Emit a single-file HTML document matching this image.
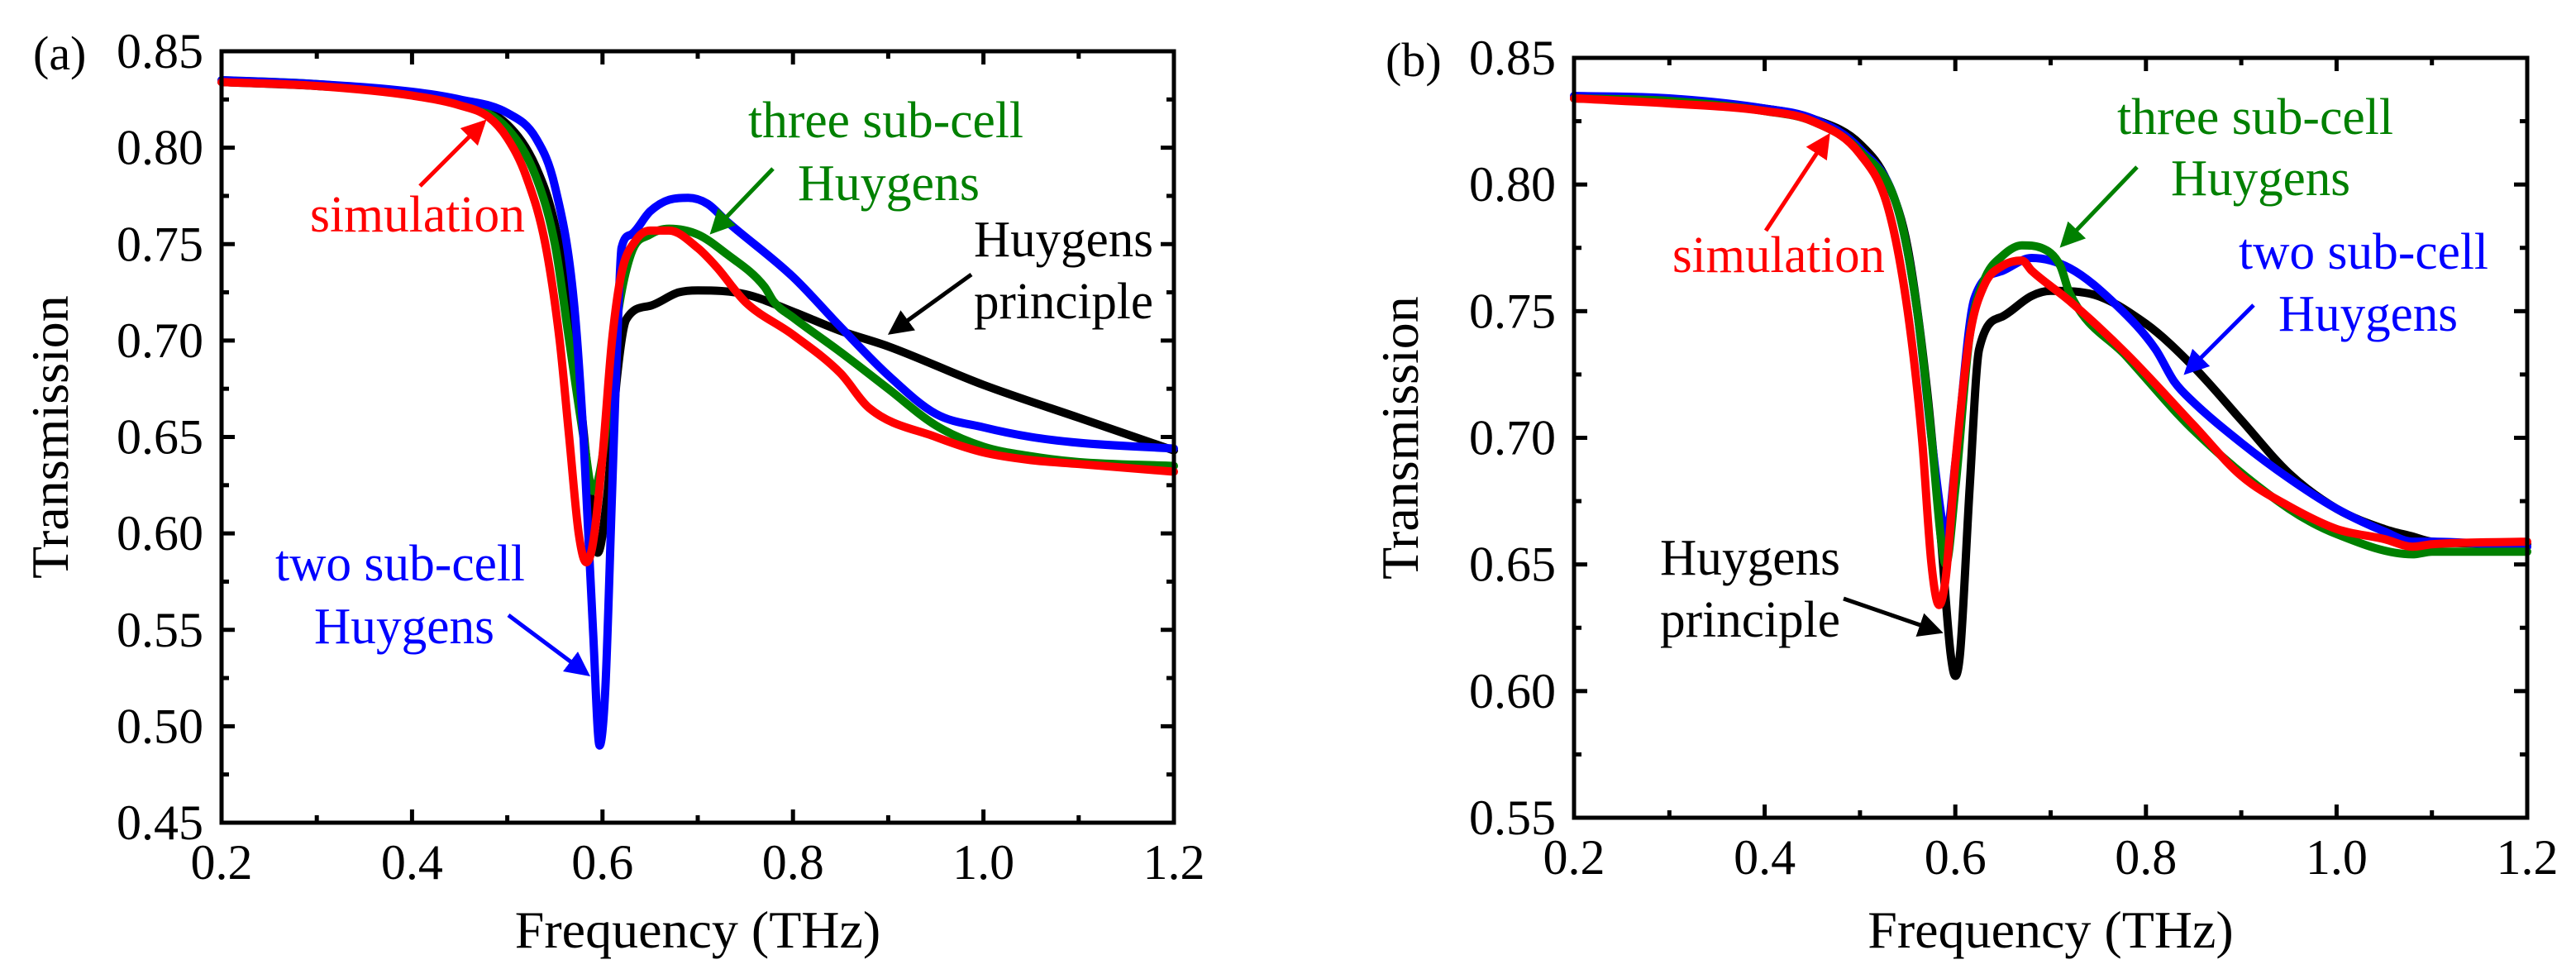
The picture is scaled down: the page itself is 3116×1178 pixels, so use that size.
<!DOCTYPE html>
<html><head><meta charset="utf-8"><style>
html,body{margin:0;padding:0;background:#fff;}
svg{display:block;font-family:"Liberation Serif",serif;}
</style></head><body>
<svg id="chart" width="3116" height="1178" viewBox="0 0 3116 1178" xmlns="http://www.w3.org/2000/svg">
<defs>
<marker id="ah-red" markerWidth="6" markerHeight="6" refX="5" refY="3" orient="auto" markerUnits="strokeWidth"><path d="M0,0 L6,3 L0,6 Z" fill="#f00"/></marker>
<marker id="ah-green" markerWidth="6" markerHeight="6" refX="5" refY="3" orient="auto" markerUnits="strokeWidth"><path d="M0,0 L6,3 L0,6 Z" fill="#008000"/></marker>
<marker id="ah-blue" markerWidth="6" markerHeight="6" refX="5" refY="3" orient="auto" markerUnits="strokeWidth"><path d="M0,0 L6,3 L0,6 Z" fill="#00f"/></marker>
<marker id="ah-black" markerWidth="6" markerHeight="6" refX="5" refY="3" orient="auto" markerUnits="strokeWidth"><path d="M0,0 L6,3 L0,6 Z" fill="#000"/></marker>
</defs>
</svg>
<script>
// Panel (a) data
const aSimF=[0.2,0.3,0.4,0.45,0.48,0.5,0.52,0.54,0.555,0.565,0.575,0.583,0.59,0.6,0.61,0.62,0.635,0.65,0.67,0.7,0.72,0.75,0.8,0.85,0.88,0.95,1.0,1.05,1.1,1.2];
const aSimT=[0.834,0.832,0.827,0.822,0.816,0.805,0.785,0.75,0.70,0.65,0.60,0.585,0.595,0.64,0.70,0.735,0.752,0.757,0.757,0.748,0.738,0.72,0.703,0.683,0.665,0.65,0.642,0.638,0.636,0.632];
const aThrF=[0.2,0.3,0.4,0.45,0.5,0.53,0.55,0.565,0.58,0.59,0.6,0.615,0.63,0.65,0.67,0.7,0.73,0.77,0.78,0.8,0.85,0.9,0.95,1.0,1.05,1.1,1.2];
const aThrT=[0.835,0.833,0.828,0.823,0.81,0.785,0.75,0.70,0.65,0.622,0.64,0.71,0.745,0.755,0.758,0.755,0.745,0.728,0.72,0.712,0.694,0.675,0.656,0.645,0.64,0.637,0.635];
const aTwoF=[0.2,0.3,0.4,0.45,0.5,0.53,0.55,0.57,0.58,0.59,0.597,0.603,0.61,0.617,0.62,0.63,0.65,0.67,0.69,0.71,0.73,0.8,0.85,0.9,0.95,1.0,1.05,1.1,1.2];
const aTwoT=[0.835,0.833,0.829,0.825,0.818,0.805,0.78,0.72,0.65,0.55,0.49,0.52,0.62,0.72,0.748,0.755,0.767,0.773,0.774,0.771,0.762,0.733,0.707,0.682,0.662,0.655,0.65,0.647,0.644];
const aHuyF=[0.2,0.3,0.4,0.45,0.5,0.53,0.55,0.57,0.585,0.595,0.605,0.615,0.625,0.65,0.68,0.7,0.75,0.8,0.85,0.9,1.0,1.1,1.2];
const aHuyT=[0.834,0.832,0.828,0.823,0.812,0.79,0.76,0.70,0.63,0.59,0.62,0.68,0.711,0.718,0.725,0.726,0.724,0.715,0.705,0.697,0.677,0.66,0.643];
// Panel (b) data
const bSimF=[0.2,0.3,0.4,0.45,0.5,0.53,0.55,0.565,0.575,0.583,0.59,0.6,0.615,0.63,0.65,0.67,0.68,0.72,0.78,0.85,0.9,0.95,1.0,1.05,1.08,1.1,1.2];
const bSimT=[0.834,0.832,0.829,0.825,0.812,0.79,0.75,0.70,0.65,0.634,0.645,0.69,0.74,0.76,0.768,0.77,0.766,0.754,0.733,0.705,0.685,0.673,0.664,0.66,0.657,0.658,0.659];
const bThrF=[0.2,0.3,0.4,0.45,0.5,0.54,0.56,0.575,0.585,0.59,0.6,0.615,0.63,0.65,0.67,0.69,0.71,0.72,0.78,0.85,0.95,1.0,1.08,1.1,1.2];
const bThrT=[0.834,0.833,0.829,0.825,0.813,0.79,0.75,0.70,0.66,0.65,0.68,0.74,0.762,0.772,0.776,0.775,0.768,0.757,0.732,0.703,0.672,0.662,0.654,0.655,0.655];
const bTwoF=[0.2,0.3,0.4,0.45,0.5,0.54,0.56,0.575,0.585,0.59,0.6,0.62,0.65,0.68,0.72,0.77,0.81,0.83,0.85,0.9,0.95,1.0,1.05,1.08,1.1,1.2];
const bTwoT=[0.835,0.834,0.830,0.826,0.814,0.79,0.75,0.70,0.67,0.66,0.69,0.755,0.766,0.771,0.767,0.752,0.735,0.722,0.714,0.698,0.684,0.672,0.663,0.659,0.659,0.657];
const bHuyF=[0.2,0.3,0.4,0.45,0.5,0.53,0.55,0.57,0.585,0.595,0.6,0.605,0.615,0.625,0.65,0.68,0.7,0.74,0.8,0.85,0.9,0.95,1.0,1.05,1.08,1.1,1.2];
const bHuyT=[0.834,0.833,0.830,0.826,0.816,0.80,0.775,0.72,0.66,0.615,0.606,0.615,0.68,0.735,0.748,0.756,0.758,0.757,0.745,0.728,0.707,0.686,0.672,0.664,0.661,0.659,0.658];
// Tick labels
const xTicks=[0.2,0.4,0.6,0.8,1.0,1.2];
const aYTicks=[0.45,0.50,0.55,0.60,0.65,0.70,0.75,0.80,0.85];
const bYTicks=[0.55,0.60,0.65,0.70,0.75,0.80,0.85];

const NS="http://www.w3.org/2000/svg";
const svg=document.getElementById('chart');
function mk(tag,attrs,parent){const e=document.createElementNS(NS,tag);for(const k in attrs)e.setAttribute(k,attrs[k]);(parent||svg).appendChild(e);return e;}

// monotone cubic path through pixel points
function smoothPath(X,Y){
  const n=X.length;const d=[],m=new Array(n);
  for(let i=0;i<n-1;i++)d.push((Y[i+1]-Y[i])/(X[i+1]-X[i]));
  m[0]=d[0];m[n-1]=d[n-2];
  for(let i=1;i<n-1;i++){m[i]=(d[i-1]*d[i]<=0)?0:(d[i-1]+d[i])/2;}
  for(let i=0;i<n-1;i++){
    if(d[i]===0){m[i]=0;m[i+1]=0;continue;}
    const a=m[i]/d[i],b=m[i+1]/d[i],s=a*a+b*b;
    if(s>9){const t=3/Math.sqrt(s);m[i]=t*a*d[i];m[i+1]=t*b*d[i];}
  }
  let p='M'+X[0].toFixed(1)+','+Y[0].toFixed(1);
  for(let i=0;i<n-1;i++){const h=(X[i+1]-X[i])/3;
    p+=' C'+(X[i]+h).toFixed(1)+','+(Y[i]+m[i]*h).toFixed(1)+' '+(X[i+1]-h).toFixed(1)+','+(Y[i+1]-m[i+1]*h).toFixed(1)+' '+X[i+1].toFixed(1)+','+Y[i+1].toFixed(1);}
  return p;
}

function panel(p){
  const g=mk('g',{});
  
  
  const xs=f=>p.L+(f-0.2)/1.0*(p.R-p.L);
  const ys=t=>p.B-(t-p.ymin)/(p.ymax-p.ymin)*(p.B-p.T);
  p.series.forEach(s=>{
    const d=smoothPath(s.f.map(xs),s.t.map(ys));
    const path=mk('path',{d:d,fill:'none',stroke:s.c,'stroke-width':10,'stroke-linejoin':'round','stroke-linecap':'round'},g);
    
    
  });
  const fr=mk('rect',{x:p.L,y:p.T,width:p.R-p.L,height:p.B-p.T,fill:'none',stroke:'#000','stroke-width':5},g);
  
  
  for(let i=0;i<xTicks.length;i++){
    const x=xs(xTicks[i]);
    mk('line',{x1:x,y1:p.B,x2:x,y2:p.B-16,stroke:'#000','stroke-width':5},g);
    mk('line',{x1:x,y1:p.T,x2:x,y2:p.T+16,stroke:'#000','stroke-width':5},g);
    if(i<xTicks.length-1){const xm=xs(xTicks[i]+0.1);
      mk('line',{x1:xm,y1:p.B,x2:xm,y2:p.B-9,stroke:'#000','stroke-width':5},g);
      mk('line',{x1:xm,y1:p.T,x2:xm,y2:p.T+9,stroke:'#000','stroke-width':5},g);}
    const t=mk('text',{x:x,y:p.B+68,'font-size':60,'text-anchor':'middle'},g);
    t.textContent=xTicks[i].toFixed(1);
    
    
  }
  for(let i=0;i<p.yt.length;i++){
    const y=ys(p.yt[i]);
    mk('line',{x1:p.L,y1:y,x2:p.L+16,y2:y,stroke:'#000','stroke-width':5},g);
    mk('line',{x1:p.R,y1:y,x2:p.R-16,y2:y,stroke:'#000','stroke-width':5},g);
    if(i<p.yt.length-1){const ym=ys(p.yt[i]+0.025);
      mk('line',{x1:p.L,y1:ym,x2:p.L+9,y2:ym,stroke:'#000','stroke-width':5},g);
      mk('line',{x1:p.R,y1:ym,x2:p.R-9,y2:ym,stroke:'#000','stroke-width':5},g);}
    const t=mk('text',{x:p.L-22,y:y+20,'font-size':60,'text-anchor':'end'},g);
    t.textContent=p.yt[i].toFixed(2);
    
    
  }
  const xt=mk('text',{x:(p.L+p.R)/2,y:1146,'font-size':64,'text-anchor':'middle'},g);
  xt.textContent='Frequency (THz)';
  
  
  const yt=mk('text',{x:0,y:0,'font-size':64,'text-anchor':'middle',transform:'translate('+(p.ytx)+','+((p.T+p.B)/2)+') rotate(-90)'},g);
  yt.textContent='Transmission';
  
  
  const pl=mk('text',{x:p.plx,y:p.T+22,'font-size':58},g);
  pl.textContent='('+p.id+')';
  
  
  p.ann.forEach(a=>{
    a.lines.forEach(ln=>{
      const t=mk('text',{x:ln[1],y:ln[2],'font-size':62,fill:a.c,textLength:ln[3],lengthAdjust:'spacingAndGlyphs'},g);
      t.textContent=ln[0];
      
      
    });
    const ar=mk('line',{x1:a.ar[0],y1:a.ar[1],x2:a.ar[2],y2:a.ar[3],stroke:a.c,'stroke-width':5,'marker-end':'url(#ah-'+a.m+')'},g);
    
    
  });
}

panel({id:'a',L:268,R:1420,T:62,B:995,ymin:0.45,ymax:0.85,yt:aYTicks,ytx:82,plx:40,
  series:[{n:'huygens',f:aHuyF,t:aHuyT,c:'#000'},{n:'three-sub-cell',f:aThrF,t:aThrT,c:'#008000'},{n:'two-sub-cell',f:aTwoF,t:aTwoT,c:'#0000ff'},{n:'simulation',f:aSimF,t:aSimT,c:'#ff0000'}],
  ann:[
   {n:'simulation',c:'#f00',m:'red',lines:[['simulation',375,280,260]],ar:[508,225,585,148]},
   {n:'three-sub-cell',c:'#008000',m:'green',lines:[['three sub-cell',905,166,333],['Huygens',965,242,220]],ar:[935,204,862,280]},
   {n:'huygens-principle',c:'#000',m:'black',lines:[['Huygens',1178,310,217],['principle',1178,385,217]],ar:[1175,332,1078,402]},
   {n:'two-sub-cell',c:'#00f',m:'blue',lines:[['two sub-cell',333,702,302],['Huygens',380,778,218]],ar:[615,744,710,815]}
  ]});
panel({id:'b',L:1904,R:3057,T:70,B:989,ymin:0.55,ymax:0.85,yt:bYTicks,ytx:1715,plx:1676,
  series:[{n:'huygens',f:bHuyF,t:bHuyT,c:'#000'},{n:'two-sub-cell',f:bTwoF,t:bTwoT,c:'#0000ff'},{n:'three-sub-cell',f:bThrF,t:bThrT,c:'#008000'},{n:'simulation',f:bSimF,t:bSimT,c:'#ff0000'}],
  ann:[
   {n:'simulation',c:'#f00',m:'red',lines:[['simulation',2023,329,257]],ar:[2136,279,2211,165]},
   {n:'three-sub-cell',c:'#008000',m:'green',lines:[['three sub-cell',2561,162,334],['Huygens',2626,236,217]],ar:[2585,202,2495,296]},
   {n:'two-sub-cell',c:'#00f',m:'blue',lines:[['two sub-cell',2708,325,302],['Huygens',2756,400,217]],ar:[2726,369,2645,450]},
   {n:'huygens-principle',c:'#000',m:'black',lines:[['Huygens',2008,695,218],['principle',2008,770,218]],ar:[2230,724,2346,764]}
  ]});
</script>
</body></html>
